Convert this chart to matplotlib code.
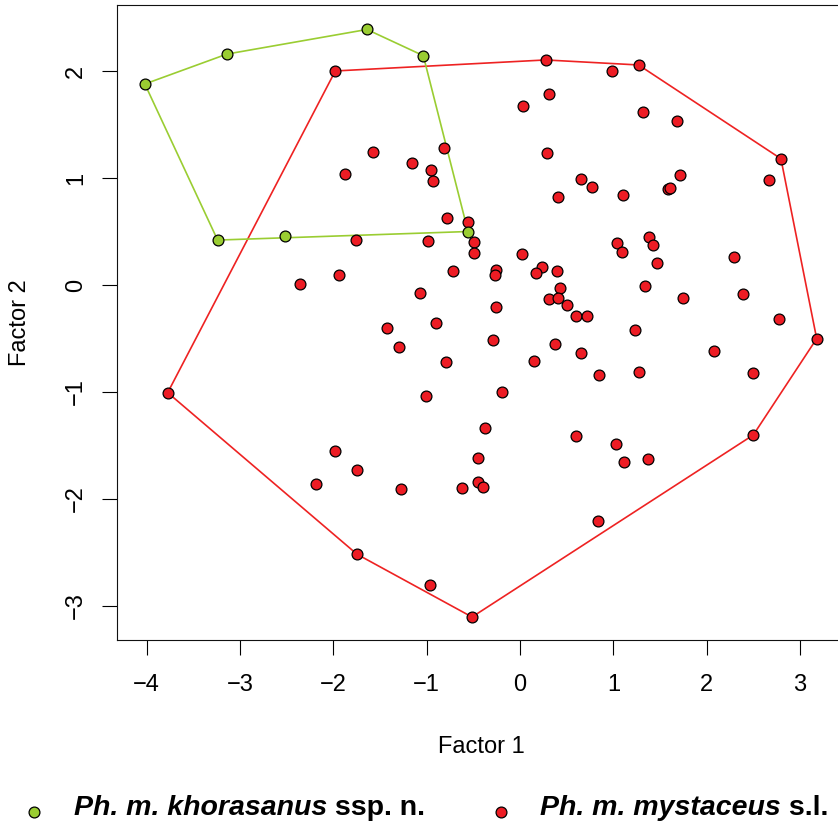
import matplotlib
matplotlib.use("Agg")
import matplotlib.pyplot as plt
import numpy as np

plt.rcParams["font.family"] = ["Liberation Sans", "DejaVu Sans"]

GREEN = "#9acd32"
RED = "#ed1c24"
RED_LINE = "#ee2222"

# Ph. m. khorasanus ssp. n.
kho_x = [-4.02, -3.14, -1.64, -1.036, -0.557, -2.52, -3.24]
kho_y = [1.88, 2.16, 2.39, 2.145, 0.50, 0.46, 0.42]

# Ph. m. mystaceus s.l.
mys_x = [-1.979, -1.578, -1.871, -1.154, -0.818, -0.950, -0.936, -0.786, -0.557, -0.493,
         -0.493, -1.754, -0.982, -0.714, -1.943, -2.357, -1.068, 0.275, 0.982, 1.271,
         0.307, 0.032, 1.321, 1.682, 2.796, 0.293, 0.650, 0.771, 0.404, 1.104,
         1.711, 1.590, 1.610, 2.664, 0.018, -0.261, -0.268, 0.232, 0.171, 0.393,
         0.429, 1.043, 1.089, 1.386, 1.421, 1.464, 2.289, 1.339, 2.389, 1.743,
         0.314, 0.411, 0.507, 0.600, 0.721, -0.257, -0.293, 0.375, 0.154, 0.654,
         0.846, 1.236, 1.275, 2.779, 3.179, 2.082, 2.500, -0.189, -0.372, 0.596,
         1.029, 1.111, 1.371, 2.500, -0.454, -0.446, -0.400, -0.625, 0.832, -0.514,
         -0.896, -1.425, -1.296, -0.793, -1.011, -3.775, -1.979, -1.750, -2.182, -1.271,
         -1.746, -0.968]
mys_y = [2.002, 1.244, 1.038, 1.138, 1.282, 1.079, 0.976, 0.630, 0.589, 0.402,
         0.302, 0.421, 0.412, 0.134, 0.090, 0.009, -0.078, 2.105, 2.002, 2.058,
         1.787, 1.672, 1.618, 1.531, 1.181, 1.235, 0.995, 0.914, 0.826, 0.842,
         1.029, 0.895, 0.910, 0.982, 0.290, 0.140, 0.097, 0.171, 0.115, 0.134,
         -0.028, 0.390, 0.312, 0.446, 0.377, 0.206, 0.259, -0.009, -0.081, -0.119,
         -0.131, -0.125, -0.190, -0.290, -0.290, -0.206, -0.511, -0.552, -0.714, -0.639,
         -0.842, -0.418, -0.814, -0.321, -0.502, -0.617, -0.820, -1.004, -1.341, -1.416,
         -1.490, -1.653, -1.628, -1.403, -1.615, -1.840, -1.890, -1.902, -2.211, -3.106,
         -0.355, -0.402, -0.583, -0.723, -1.035, -1.007, -1.556, -1.731, -1.858, -1.911,
         -2.519, -2.806]

x_ticks = [-4, -3, -2, -1, 0, 1, 2, 3]
y_ticks = [-3, -2, -1, 0, 1, 2]


def hull(xs, ys):
    pts = sorted(set(zip(xs, ys)))

    def cross(o, a, b):
        return (a[0] - o[0]) * (b[1] - o[1]) - (a[1] - o[1]) * (b[0] - o[0])

    lower, upper = [], []
    for p in pts:
        while len(lower) >= 2 and cross(lower[-2], lower[-1], p) <= 0:
            lower.pop()
        lower.append(p)
    for p in reversed(pts):
        while len(upper) >= 2 and cross(upper[-2], upper[-1], p) <= 0:
            upper.pop()
        upper.append(p)
    h = lower[:-1] + upper[:-1]
    h.append(h[0])
    return np.array(h)


fig = plt.figure(figsize=(8.38, 8.25), dpi=100)
ax = fig.add_axes([117.3 / 838, 185 / 825, (845.7 - 117.3) / 838, 635 / 825])

for xs, ys, lc in ((mys_x, mys_y, RED_LINE), (kho_x, kho_y, GREEN)):
    h = hull(xs, ys)
    ax.plot(h[:, 0], h[:, 1], color=lc, lw=1.2, zorder=2, clip_on=False)

ax.plot(mys_x, mys_y, "o", ms=7.8, mfc=RED, mec="black", mew=0.9, zorder=3)
ax.plot(kho_x, kho_y, "o", ms=7.8, mfc=GREEN, mec="black", mew=0.9, zorder=4)

ax.set_xlim(-4.315, 3.49)
ax.set_ylim(-3.321, 2.619)
ax.set_xticks(x_ticks)
ax.set_yticks(y_ticks)
ax.tick_params(length=10.8, width=0.8, labelsize=17, direction="out")
ax.tick_params(axis="x", pad=14)
ax.tick_params(axis="y", pad=11)
for lab in ax.get_yticklabels():
    lab.set_rotation(90)
    lab.set_va("center")
for s in ax.spines.values():
    s.set_linewidth(0.8)
    s.set_color("#111111")

fig.text(481.5 / 838, 1 - 747 / 825, "Factor 1", ha="center", va="center", fontsize=17)
fig.text(20 / 838, 1 - 322.5 / 825, "Factor 2", ha="center", va="center",
         rotation=90, fontsize=17)

# legend row at the bottom
leg_y = 1 - 811.7 / 825
fig.lines.append(plt.Line2D([34 / 838], [leg_y], marker="o", ms=7.8, mfc=GREEN,
                            mec="black", mew=0.9, transform=fig.transFigure))
fig.lines.append(plt.Line2D([500.7 / 838], [leg_y], marker="o", ms=7.8, mfc=RED,
                            mec="black", mew=0.9, transform=fig.transFigure))

base = 1 - 815 / 825
t1 = fig.text(74 / 838, base, "Ph. m. khorasanus", fontsize=20.5,
              fontweight="bold", fontstyle="italic", va="baseline")
fig.canvas.draw()
ax.annotate(" ssp. n.", xy=(1, 0), xycoords=t1, xytext=(0, 0),
            textcoords="offset points", fontsize=20.5, fontweight="bold",
            va="bottom", annotation_clip=False)
t2 = fig.text(540 / 838, base, "Ph. m. mystaceus", fontsize=20.5,
              fontweight="bold", fontstyle="italic", va="baseline")
ax.annotate(" s.l.", xy=(1, 0), xycoords=t2, xytext=(0, 0),
            textcoords="offset points", fontsize=20.5, fontweight="bold",
            va="bottom", annotation_clip=False)

fig.savefig("out.png", dpi=100)
